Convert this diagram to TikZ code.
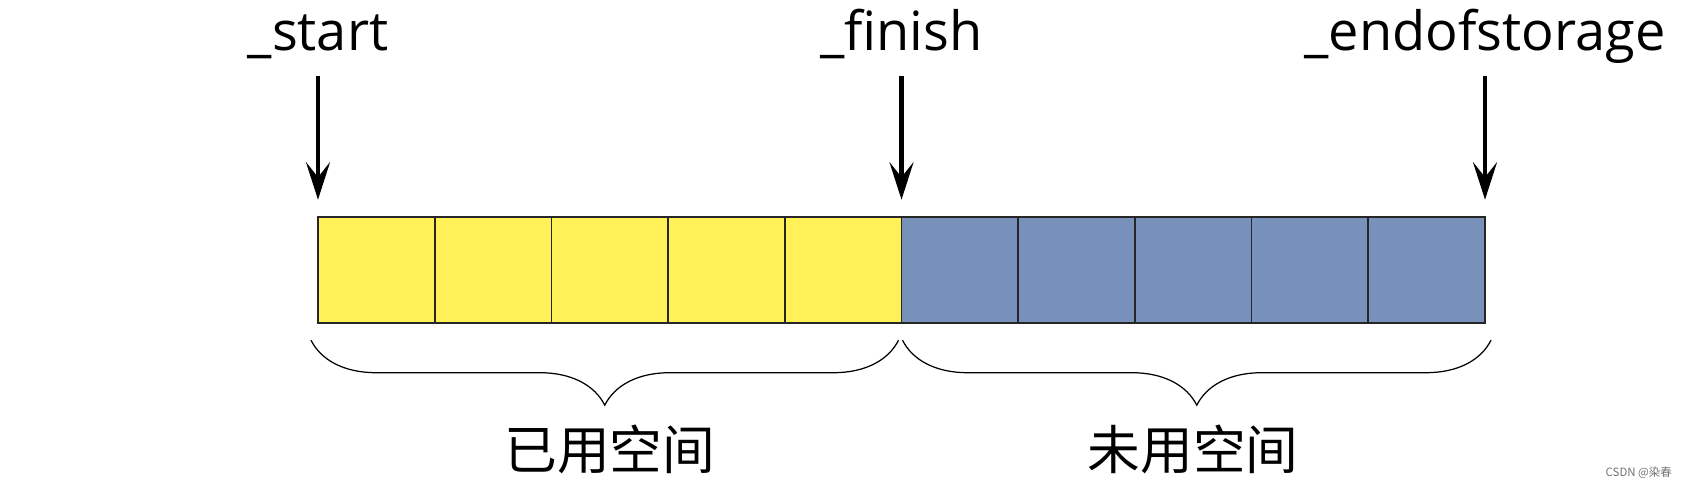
\documentclass[tikz,border=0pt]{standalone}
\usepackage{fontspec}
\setmainfont{Open Sans}
\newfontfamily\cjk{Noto Sans CJK SC}
\usetikzlibrary{arrows.meta,positioning,decorations.pathreplacing}
\definecolor{usedyellow}{HTML}{FFF157}
\definecolor{freeblue}{HTML}{7891BA}
\tikzset{
  cell/.style     = {rectangle, draw=black!85, line width=1pt,
                     minimum width=2.334cm, minimum height=2.12cm,
                     inner sep=0pt, outer sep=0pt},
  usedcell/.style = {cell, fill=usedyellow},
  freecell/.style = {cell, fill=freeblue},
  ptrlbl/.style   = {inner sep=0pt, text depth=0.5cm, font=\fontsize{30.8}{36}\selectfont},
  ptr/.style      = {-{Stealth[length=7.5mm, width=4.8mm, inset=3mm]}, line width=2.6pt},
  brc/.style      = {decorate, decoration={brace, mirror, amplitude=1.3cm}, line width=0.7pt},
  spacelbl/.style = {inner sep=0pt, font=\cjk\fontsize{30}{36}\selectfont}
}
\begin{document}
\begin{tikzpicture}[node distance=0pt]
    \useasboundingbox (0,0) rectangle (33.84,9.76);
    \node[usedcell, anchor=south west] (c1) at (6.36,3.306) {};
    \node[usedcell, right=of c1] (c2) {};
    \node[usedcell, right=of c2] (c3) {};
    \node[usedcell, right=of c3] (c4) {};
    \node[usedcell, right=of c4] (c5) {};
    \node[freecell, right=of c5] (c6) {};
    \node[freecell, right=of c6] (c7) {};
    \node[freecell, right=of c7] (c8) {};
    \node[freecell, right=of c8] (c9) {};
    \node[freecell, right=of c9] (c10) {};
    % pointers
    \coordinate (s-tip) at ([yshift=3.4mm]c1.north west);
    \coordinate (f-tip) at ([yshift=3.4mm]c5.north east);
    \coordinate (e-tip) at ([yshift=3.4mm]c10.north east);
    \node[ptrlbl, above=24.8mm of s-tip] (start) {\_start};
    \node[ptrlbl, above=24.8mm of f-tip] (finish) {\_finish};
    \node[ptrlbl, above=24.8mm of e-tip] (eos) {\_endofstorage};
    \draw[ptr] (start.south) -- (s-tip);
    \draw[ptr] (finish.south) -- (f-tip);
    \draw[ptr] (eos.south) -- (e-tip);
    % braces
    \coordinate (u-l) at ([xshift=-1.4mm, yshift=-3.5mm]c1.south west);
    \coordinate (u-r) at ([xshift=-0.6mm, yshift=-3.5mm]c5.south east);
    \coordinate (f-l) at ([xshift=0.2mm, yshift=-3.5mm]c6.south west);
    \coordinate (f-r) at ([xshift=1.2mm, yshift=-3.5mm]c10.south east);
    \draw[brc] (u-l) -- (u-r);
    \draw[brc] (f-l) -- (f-r);
    \node[spacelbl] (used) at ([yshift=-2.54cm]c3.south) {已用空间};
    \node[spacelbl] (free) at ([yshift=-2.54cm]c8.south) {未用空间};
    \node[anchor=base east, font=\cjk\fontsize{6.5}{7.5}\selectfont, text=black!55] (wm) at (33.56,0.22) {CSDN @染春};
\end{tikzpicture}
\end{document}
